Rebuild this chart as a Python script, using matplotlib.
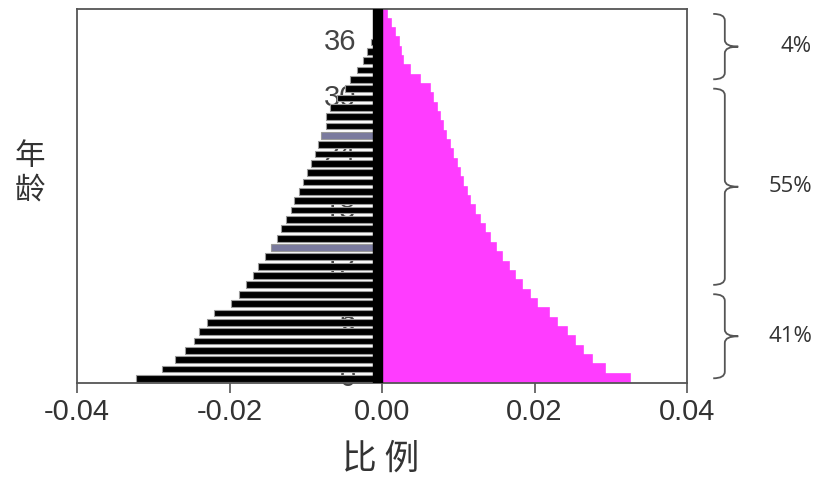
"""
Age pyramid (male negative / female positive) with bracketed share labels.
"""

import matplotlib.pyplot as plt
import matplotlib.transforms as mtransforms
from matplotlib.path import Path
from matplotlib.patches import PathPatch

# ---------------------------------------------------------------------------
# Data
# ---------------------------------------------------------------------------
ages = list(range(40))

male = [
    -0.0323, -0.0289, -0.0272, -0.0258, -0.0247, -0.0240, -0.0229, -0.0220,
    -0.0198, -0.0187, -0.0179, -0.0169, -0.0163, -0.0153, -0.0145, -0.0138,
    -0.0132, -0.0126, -0.0120, -0.0115, -0.0109, -0.0103, -0.0098, -0.0093,
    -0.0088, -0.0084, -0.0080, -0.0074, -0.0073, -0.0068, -0.0059, -0.0049,
    -0.0042, -0.0033, -0.0025, -0.0020, -0.0014, -0.0010, -0.0007, -0.0004,
]

female = [
    0.0325, 0.0292, 0.0276, 0.0264, 0.0253, 0.0242, 0.0230, 0.0219,
    0.0203, 0.0194, 0.0183, 0.0174, 0.0166, 0.0158, 0.0150, 0.0142,
    0.0135, 0.0128, 0.0122, 0.0116, 0.0111, 0.0106, 0.0102, 0.0098,
    0.0093, 0.0089, 0.0084, 0.0080, 0.0076, 0.0072, 0.0067, 0.0063,
    0.0050, 0.0037, 0.0027, 0.0025, 0.0022, 0.0017, 0.0012, 0.0007,
]

age_labels = [0, 6, 12, 18, 24, 30, 36]
highlight_ages = [14, 26]
x_ticks = [-0.04, -0.02, 0.00, 0.02, 0.04]

# (first age, last age, share)
groups = [(0, 9, "41%"), (10, 31, "55%"), (32, 39, "4%")]

# ---------------------------------------------------------------------------
# Style
# ---------------------------------------------------------------------------
MALE_COLOR = "#000000"
MALE_EDGE = "#9a9a9a"
HIGHLIGHT = "#7a7a9e"
FEMALE_COLOR = "#ff3cff"
FRAME = "#555555"
TEXT = "#333333"
CJK = ["Noto Sans CJK SC", "DejaVu Sans"]


def draw_brace(ax, lo, hi, label):
    """Right-pointing curly brace spanning ages lo..hi, outside the axes."""
    trans = mtransforms.blended_transform_factory(ax.transAxes, ax.transData)
    x_end, x_line, x_tip = 1.043, 1.062, 1.084
    mid = (lo + hi) / 2
    r = 0.7
    verts = [
        (x_end, hi), (x_line, hi), (x_line, hi - r),
        (x_line, mid + r),
        (x_line, mid), (x_tip, mid),
        (x_line, mid), (x_line, mid - r),
        (x_line, lo + r),
        (x_line, lo), (x_end, lo),
    ]
    codes = [
        Path.MOVETO, Path.CURVE3, Path.CURVE3,
        Path.LINETO,
        Path.CURVE3, Path.CURVE3,
        Path.CURVE3, Path.CURVE3,
        Path.LINETO,
        Path.CURVE3, Path.CURVE3,
    ]
    ax.add_patch(PathPatch(Path(verts, codes), transform=trans, fill=False,
                           edgecolor="#555555", linewidth=1.3, clip_on=False))
    ax.text(1.205, mid, label, transform=trans, ha="right", va="center",
            fontsize=16, color=TEXT, family=["Open Sans", "DejaVu Sans"])


fig = plt.figure(figsize=(8.16, 4.86), dpi=100)
ax = fig.add_axes([0.0944, 0.212, 0.7475, 0.769])

# age labels sit behind the bars, as in the original
for a in age_labels:
    ax.text(-0.0034, a, str(a), ha="right", va="center", fontsize=21,
            color="#444444", family=["Liberation Sans", "DejaVu Sans"], zorder=1)

male_colors = [HIGHLIGHT if a in highlight_ages else MALE_COLOR for a in ages]
ax.barh(ages, male, height=0.72, color=male_colors, edgecolor=MALE_EDGE,
        linewidth=0.8, zorder=2)
ax.barh(ages, female, height=1.0, color=FEMALE_COLOR, edgecolor=FEMALE_COLOR,
        linewidth=1.2, zorder=2)

# dense tick strip at the centre line
ax.axvspan(-0.0012, 0.0, color="black", zorder=3)

ax.set_xlim(-0.04, 0.04)
ax.set_ylim(-0.5, 39.5)
ax.set_yticks([])
ax.set_xticks(x_ticks)
ax.set_xticklabels([f"{t:.2f}" for t in x_ticks], fontsize=21, color=TEXT,
                   family=["Liberation Sans", "DejaVu Sans"])
ax.tick_params(axis="x", length=7, width=1.2, color=FRAME, pad=4)
for spine in ax.spines.values():
    spine.set_color(FRAME)
    spine.set_linewidth(1.3)

for lo, hi, label in groups:
    draw_brace(ax, lo, hi, label)

fig.text(0.037, 0.644, "年\n龄", ha="center", va="center", fontsize=22,
         color=TEXT, family=CJK, fontweight="light", linespacing=1.1)
fig.text(0.466, 0.056, "比 例", ha="center", va="center", fontsize=25,
         color=TEXT, family=CJK, fontweight="light")

fig.savefig("out.png", dpi=100, facecolor="white")
plt.close(fig)
